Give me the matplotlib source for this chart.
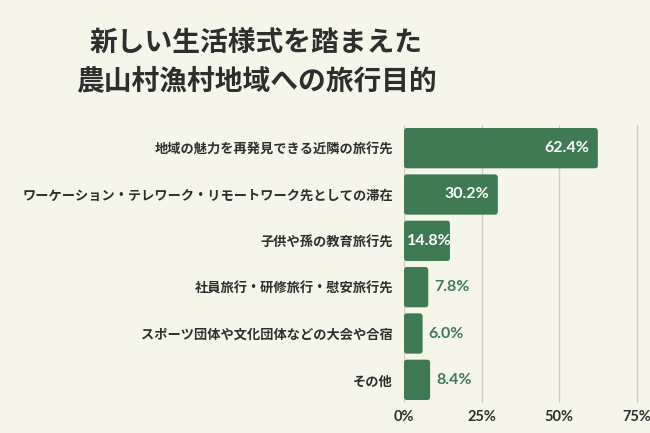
import matplotlib
matplotlib.use("Agg")
import matplotlib.pyplot as plt
from matplotlib.patches import FancyBboxPatch

plt.rcParams['font.family'] = ['Noto Sans CJK JP', 'DejaVu Sans']

categories = [
    "地域の魅力を再発見できる近隣の旅行先",
    "ワーケーション・テレワーク・リモートワーク先としての滞在",
    "子供や孫の教育旅行先",
    "社員旅行・研修旅行・慰安旅行先",
    "スポーツ団体や文化団体などの大会や合宿",
    "その他",
]
values = [62.4, 30.2, 14.8, 7.8, 6.0, 8.4]
xticks = [0, 25, 50, 75]
xtick_labels = ["0%", "25%", "50%", "75%"]
title = "新しい生活様式を踏まえた\n農山村漁村地域への旅行目的"

BG = "#f5f5ea"
GREEN = "#3f7a55"
DARK = "#2e2e2e"
NUMFONT = ["Lato", "DejaVu Sans"]

fig = plt.figure(figsize=(6.5, 4.33), dpi=100, facecolor=BG)
W, H = 650, 433
ax = fig.add_axes([404 / W, 1 - 403 / H, 246 / W, 278 / H], facecolor=BG)

ypos = list(range(len(categories)))
bars = ax.barh(ypos, values, height=0.87, color=GREEN, zorder=2)
ax.set_xlim(0, 79.2)
ax.set_ylim(len(categories) - 0.5, -0.5)

# rounded corners
xpx = 246 / 79.2
ypx = 278 / len(categories)
for b in bars:
    x0, y0 = b.get_x(), b.get_y()
    w, h = b.get_width(), b.get_height()
    b.set_visible(False)
    fb = FancyBboxPatch((x0, y0), w, h,
                        boxstyle="round,pad=0,rounding_size=0.9",
                        mutation_aspect=xpx / ypx,
                        facecolor=GREEN, edgecolor="none", zorder=2)
    ax.add_patch(fb)

fig.canvas.draw()
renderer = fig.canvas.get_renderer()
for y, v in zip(ypos, values):
    txt = f"{v:.1f}%"
    if v >= 12:
        t = ax.text(v - 2.6, y, txt, ha="right", va="center", color="white",
                    fontsize=11.5, fontweight="bold", family=NUMFONT, zorder=3)
        bb = t.get_window_extent(renderer)
        tw = bb.width / xpx
        if v - 2.6 - tw < 0.8:
            t.set_x(0.8 + tw)
    else:
        ax.text(v + 2.0, y, txt, ha="left", va="center", color=GREEN,
                fontsize=11.5, fontweight="bold", family=NUMFONT, zorder=3)

ax.set_xticks(xticks)
ax.set_xticklabels(xtick_labels, fontsize=10.5, fontweight="bold", color=DARK,
                   family=NUMFONT)
ax.set_yticks(ypos)
ax.set_yticklabels(categories, fontsize=9.5, fontweight="bold", color=DARK)
ax.tick_params(axis="both", length=0)
ax.tick_params(axis="y", pad=8)
ax.tick_params(axis="x", pad=5)
for s in ax.spines.values():
    s.set_visible(False)
ax.grid(axis="x", color="#cfcfc4", linewidth=1, zorder=0)
ax.set_axisbelow(True)

fig.text(256 / W, 1 - 62 / H, title, ha="center", va="center",
         fontsize=20, fontweight="bold", color=DARK, linespacing=1.5)

fig.savefig("out.png", dpi=100, facecolor=BG)
